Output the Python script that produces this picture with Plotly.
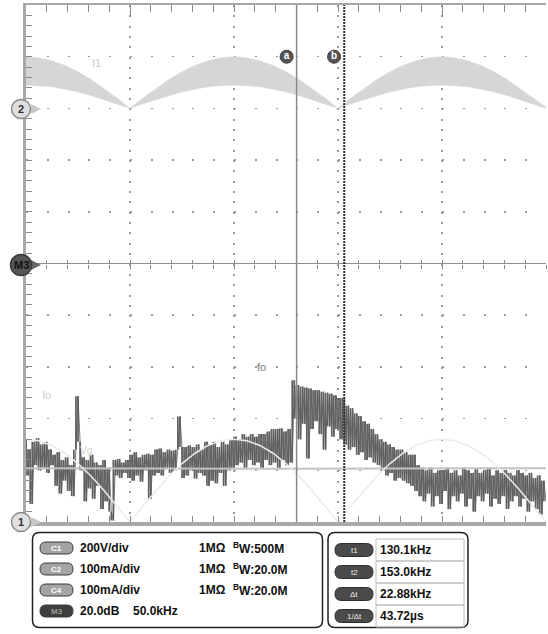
import numpy as np
import plotly.graph_objects as go

# ---------------- data (x in kHz, 50 kHz/div; y in divisions, M3 centre = 0) ----------------
fft_start_khz = 0.0
fft_step_khz = 1.0
fft_div = [
    -3.40, -4.10, -3.60, -4.65, -3.45, -3.90, -3.38, -4.00, -3.50, -3.95,
    -3.45, -4.05, -3.60, -3.90, -3.70, -4.30, -3.65, -4.45, -3.80, -4.20,
    -3.75, -4.40, -3.90, -4.50, -3.60, -2.57, -3.45, -4.00, -3.75, -4.60,
    -3.80, -4.35, -3.70, -4.55, -3.85, -4.30, -3.90, -4.75, -3.80, -4.60,
    -3.95, -4.80, -4.97, -3.80, -4.10, -3.78, -4.15, -3.85, -4.05, -3.80,
    -4.15, -3.70, -4.20, -3.65, -4.10, -3.75, -4.22, -3.70, -4.00, -3.68,
    -4.55, -3.70, -4.10, -3.60, -4.05, -3.58, -4.10, -3.65, -3.95, -3.60,
    -4.05, -3.62, -4.00, -3.60, -2.96, -3.55, -4.15, -3.55, -4.10, -3.52,
    -4.00, -3.55, -4.16, -3.50, -4.05, -3.60, -4.10, -3.45, -4.30, -3.50,
    -4.20, -3.45, -4.25, -3.55, -4.05, -3.45, -4.30, -3.50, -4.00, -3.40,
    -3.95, -3.35, -3.90, -3.40, -3.85, -3.30, -3.95, -3.35, -3.80, -3.30,
    -3.90, -3.35, -3.85, -3.30, -3.95, -3.30, -3.80, -3.25, -3.90, -3.20,
    -3.85, -3.20, -3.95, -3.19, -3.80, -3.25, -3.90, -3.20, -3.85, -2.26,
    -3.00, -2.35, -3.40, -2.38, -3.10, -2.40, -3.77, -2.42, -3.20, -2.45,
    -3.05, -2.45, -3.30, -2.48, -3.60, -2.50, -3.15, -2.52, -3.35, -2.55,
    -3.20, -2.60, -3.40, -2.60, -3.50, -2.75, -3.60, -2.80, -3.55, -2.90,
    -3.70, -2.95, -3.65, -3.05, -3.80, -3.10, -3.75, -3.20, -3.85, -3.30,
    -3.90, -3.40, -4.00, -3.45, -4.10, -3.50, -4.05, -3.55, -4.20, -3.60,
    -4.15, -3.60, -4.20, -3.65, -4.25, -3.70, -4.30, -3.70, -4.40, -3.90,
    -4.50, -3.95, -4.60, -4.00, -4.45, -3.95, -4.70, -4.05, -4.50, -4.00,
    -4.65, -4.00, -4.40, -3.95, -4.75, -4.05, -4.50, -4.00, -4.60, -4.10,
    -4.45, -3.95, -4.70, -4.00, -4.55, -4.05, -4.80, -3.98, -4.50, -4.05,
    -4.60, -4.00, -4.45, -3.95, -4.70, -4.10, -4.55, -4.00, -4.65, -4.05,
    -4.50, -4.00, -4.75, -4.05, -4.60, -4.10, -4.50, -4.00, -4.70, -4.05,
    -4.55, -4.10, -4.80, -4.05, -4.60, -4.15, -4.75, -4.10, -4.85, -4.20,
    -4.60,
]

env_step_khz = 6.25
i1_upper = [
    4.00, 3.98, 3.92, 3.83, 3.71, 3.56, 3.38, 3.20, 3.00,
    3.20, 3.38, 3.56, 3.71, 3.83, 3.92, 3.98, 4.00,
    3.98, 3.92, 3.83, 3.71, 3.56, 3.38, 3.20, 3.00,
    3.20, 3.38, 3.56, 3.71, 3.83, 3.92, 3.98, 4.00,
    3.98, 3.92, 3.83, 3.71, 3.56, 3.38, 3.20, 3.02,
]
i1_lower = [
    3.45, 3.44, 3.42, 3.37, 3.32, 3.25, 3.17, 3.09, 3.00,
    3.09, 3.17, 3.25, 3.32, 3.37, 3.42, 3.44, 3.45,
    3.44, 3.42, 3.37, 3.32, 3.25, 3.17, 3.09, 3.00,
    3.09, 3.17, 3.25, 3.32, 3.37, 3.42, 3.44, 3.45,
    3.44, 3.42, 3.37, 3.32, 3.25, 3.17, 3.09, 3.00,
]
io_arch = [
    -3.40, -3.43, -3.52, -3.67, -3.87, -4.11, -4.39, -4.69, -5.00,
    -4.69, -4.39, -4.11, -3.87, -3.67, -3.52, -3.43, -3.40,
    -3.43, -3.52, -3.67, -3.87, -4.11, -4.39, -4.69, -5.00,
    -4.69, -4.39, -4.11, -3.87, -3.67, -3.52, -3.43, -3.40,
    -3.43, -3.52, -3.67, -3.87, -4.11, -4.39, -4.69, -5.00,
]
c4_x = [0, 125, 250]
c4_level = [-3.96, -3.97, -3.96]

t1_khz = 130.1
t2_khz = 153.0

ch_pills = ["C1", "C2", "C4", "M3"]
ch_scale = ["200V/div", "100mA/div", "100mA/div", "20.0dB"]
ch_imp = ["1MΩ", "1MΩ", "1MΩ", ""]
ch_bw = ["500M", "20.0M", "20.0M", ""]
m3_span = "50.0kHz"
cur_pills = ["t1", "t2", "Δt", "1/Δt"]
cur_values = ["130.1kHz", "153.0kHz", "22.88kHz", "43.72µs"]

# ---------------- figure ----------------
FONT = "Liberation Sans"
fft_x = fft_start_khz + fft_step_khz * np.arange(len(fft_div))
env_x = env_step_khz * np.arange(len(i1_upper))

# FFT drawn as scope-style vertical strokes between successive samples
seg_x, seg_y = [], []
for i in range(len(fft_div) - 1):
    seg_x += [fft_x[i], fft_x[i], None]
    seg_y += [fft_div[i], fft_div[i + 1], None]

fig = go.Figure()

# I1 band
fig.add_trace(go.Scatter(x=env_x, y=i1_lower, mode="lines",
                         line=dict(color="#d6d6d6", width=0.5), hoverinfo="skip"))
fig.add_trace(go.Scatter(x=env_x, y=i1_upper, mode="lines", fill="tonexty",
                         fillcolor="#d6d6d6", line=dict(color="#d6d6d6", width=0.5),
                         hoverinfo="skip"))
# FFT
fig.add_trace(go.Scatter(x=fft_x, y=fft_div, mode="lines",
                         line=dict(color="#666666", width=0.9), hoverinfo="skip"))
fig.add_trace(go.Scatter(x=seg_x, y=seg_y, mode="lines",
                         line=dict(color="#5e5e5e", width=1.7), hoverinfo="skip"))
# C4 level line
fig.add_trace(go.Scatter(x=c4_x, y=c4_level, mode="lines",
                         line=dict(color="#c2c2c2", width=2), hoverinfo="skip"))
# Io arch
fig.add_trace(go.Scatter(x=env_x, y=io_arch, mode="lines",
                         line=dict(color="#ebebeb", width=1.5), hoverinfo="skip"))
# cursors
fig.add_trace(go.Scatter(x=[t1_khz, t1_khz], y=[-5, 5], mode="lines",
                         line=dict(color="#8a8a8a", width=1.5), hoverinfo="skip"))
fig.add_trace(go.Scatter(x=[t2_khz, t2_khz], y=[-5, 5], mode="lines",
                         line=dict(color="#2e2e2e", width=2, dash="2px,1px"),
                         hoverinfo="skip"))
# cursor labels
fig.add_trace(go.Scatter(x=[t1_khz - 4.8, t2_khz - 4.9], y=[4.0, 4.0],
                         mode="markers+text", text=["<b>a</b>", "<b>b</b>"],
                         textposition="middle center",
                         textfont=dict(family=FONT, size=10, color="white"),
                         marker=dict(size=13, color="#555555",
                                     line=dict(color="#3a3a3a", width=1)),
                         hoverinfo="skip"))

# dummy traces so the extra tick axes are drawn
for ax in ["x2", "x3", "x4", "x5"]:
    fig.add_trace(go.Scatter(x=[None], y=[None], xaxis=ax, yaxis="y",
                             hoverinfo="skip", showlegend=False))

# trace labels
for txt, x, y, col, sz in [("I1", 33.9, 3.87, "#cccccc", 11),
                           ("Io", 9.9, -2.55, "#cccccc", 11),
                           ("fo", 113.3, -2.01, "#777777", 11),
                           ("Vg", 28.7, -3.62, "#d4d4d4", 10)]:
    fig.add_annotation(x=x, y=y, xref="x", yref="y", text=txt, showarrow=False,
                       xanchor="center", yanchor="middle",
                       font=dict(family=FONT, size=sz, color=col))

# ---------------- pixel helpers (paper coords) ----------------
def X(px):
    return (px - 26) / 520.0

def Y(py):
    return (522 - py) / 517.0

def rrect(x0, y0, x1, y1, r):
    return (f"M{X(x0 + r)},{Y(y0)} L{X(x1 - r)},{Y(y0)} Q{X(x1)},{Y(y0)} {X(x1)},{Y(y0 + r)} "
            f"L{X(x1)},{Y(y1 - r)} Q{X(x1)},{Y(y1)} {X(x1 - r)},{Y(y1)} "
            f"L{X(x0 + r)},{Y(y1)} Q{X(x0)},{Y(y1)} {X(x0)},{Y(y1 - r)} "
            f"L{X(x0)},{Y(y0 + r)} Q{X(x0)},{Y(y0)} {X(x0 + r)},{Y(y0)} Z")

def tri(x0, cy, w, h):
    return f"M{X(x0)},{Y(cy - h / 2)} L{X(x0 + w)},{Y(cy)} L{X(x0)},{Y(cy + h / 2)} Z"

shapes = []
annos = []

def text_at(px, py, txt, size, color, anchor="center"):
    annos.append(dict(x=X(px), y=Y(py), xref="paper", yref="paper", text=txt,
                      showarrow=False, xanchor=anchor, yanchor="middle",
                      font=dict(family=FONT, size=size, color=color)))

# channel reference markers on the left edge
for label, cy, r, fill, edge, tcol, arrow_col in [
        ("2", 109, 9.5, "#dedede", "#8c8c8c", "#333", "#c8c8c8"),
        ("M3", 265, 10.5, "#555555", "#3a3a3a", "#111", "#666666"),
        ("1", 522, 9.5, "#e0e0e0", "#8c8c8c", "#333", "#c8c8c8")]:
    cx = 21
    shapes.append(dict(type="path", path=tri(31, cy, 10, 10), xref="paper", yref="paper",
                       line=dict(width=0), fillcolor=arrow_col))
    shapes.append(dict(type="circle", x0=X(cx - r), x1=X(cx + r), y0=Y(cy + r), y1=Y(cy - r),
                       xref="paper", yref="paper", line=dict(color=edge, width=1.5),
                       fillcolor=fill))
    text_at(cx, cy, f"<b>{label}</b>", 11, tcol)

# bottom info panel
shapes.append(dict(type="path", path=rrect(32.5, 532.5, 322.5, 627.5, 7), xref="paper",
                   yref="paper", line=dict(color="#222", width=1.5), fillcolor="white"))
shapes.append(dict(type="path", path=rrect(328, 532.5, 468, 627.5, 7), xref="paper",
                   yref="paper", line=dict(color="#222", width=1.5), fillcolor="white"))

left_rows = [548, 569, 590, 611]
for i, cy in enumerate(left_rows):
    dark = ch_pills[i] == "M3"
    shapes.append(dict(type="path", path=rrect(40, cy - 6, 73, cy + 6, 6), xref="paper",
                       yref="paper", line=dict(color="#3a3a3a", width=1),
                       fillcolor="#3e3e3e" if dark else "#a4a4a4"))
    text_at(56.5, cy, f"<b>{ch_pills[i]}</b>", 8, "#9a9a9a" if dark else "#ffffff")
    text_at(78, cy, f"<b>{ch_scale[i]}</b>", 12, "#111", "left")
    if ch_imp[i]:
        text_at(197, cy, f"<b>{ch_imp[i]}</b>", 12, "#111", "left")
        text_at(231, cy, f"<b><sup>B</sup>W:{ch_bw[i]}</b>", 12, "#111", "left")
text_at(131, left_rows[3], f"<b>{m3_span}</b>", 12, "#111", "left")

cell_tops = [539, 561, 583, 605]
for i, top in enumerate(cell_tops):
    cy = top + 11
    shapes.append(dict(type="rect", x0=X(376), x1=X(464), y0=Y(top), y1=Y(top + 22),
                       xref="paper", yref="paper", line=dict(color="#bdbdbd", width=1)))
    shapes.append(dict(type="path", path=rrect(335, cy - 6.5, 373, cy + 6.5, 6.5),
                       xref="paper", yref="paper", line=dict(color="#2e2e2e", width=1),
                       fillcolor="#4a4a4a"))
    text_at(354, cy, cur_pills[i], 8, "#f0f0f0")
    text_at(378, cy, f"<b>{cur_values[i]}</b>", 12, "#111", "left")

for a in annos:
    fig.add_annotation(**a)

# ---------------- axes / layout ----------------
tick_col = "#8a8a8a"
border_col = "#a8a8a8"
fig.update_layout(
    width=548, height=634,
    margin=dict(l=26, r=2, t=5, b=112, pad=0),
    paper_bgcolor="white", plot_bgcolor="white",
    showlegend=False, hovermode=False,
    shapes=shapes,
    xaxis=dict(range=[0, 250], showline=True, linecolor=border_col, linewidth=4,
               ticks="inside", ticklen=6, tickcolor=tick_col, tickwidth=1,
               tick0=0, dtick=50, showticklabels=False, zeroline=False,
               showgrid=True, gridcolor="#9a9a9a", gridwidth=1.5, griddash="2px,8.34px",
               minor=dict(dtick=10, ticks="inside", ticklen=6, tickcolor=tick_col,
                          showgrid=False),
               fixedrange=True),
    yaxis=dict(range=[-5, 5], showline=True, linecolor=border_col, linewidth=3,
               ticks="inside", ticklen=6, tickcolor=tick_col, tickwidth=1,
               tick0=-5, dtick=1, showticklabels=False,
               showgrid=True, gridcolor="#9a9a9a", gridwidth=1.5, griddash="2px,18.8px",
               zeroline=True, zerolinecolor="#8c8c8c", zerolinewidth=1.5,
               minor=dict(dtick=0.2, ticks="inside", ticklen=6, tickcolor=tick_col,
                          showgrid=False),
               fixedrange=True),
    xaxis2=dict(range=[0, 250], overlaying="x", anchor="y", side="top",
                showline=True, linecolor=border_col, linewidth=2,
                ticks="inside", ticklen=7, tickcolor=tick_col, tick0=0, dtick=10,
                showticklabels=False, showgrid=False, zeroline=False, fixedrange=True),
    xaxis3=dict(range=[0, 250], overlaying="x", anchor="y", side="top",
                showline=False, tickmode="array", tickvals=[50, 200],
                ticks="inside", ticklen=12, tickcolor=tick_col,
                showticklabels=False, showgrid=False, zeroline=False, fixedrange=True),
    xaxis4=dict(range=[0, 250], overlaying="x", anchor="free", position=0.5, side="bottom",
                showline=False, ticks="outside", ticklen=4, tickcolor=tick_col,
                tick0=0, dtick=10, showticklabels=False, showgrid=False,
                zeroline=False, fixedrange=True),
    xaxis5=dict(range=[0, 250], overlaying="x", anchor="free", position=0.5, side="bottom",
                showline=False, ticks="inside", ticklen=4, tickcolor=tick_col,
                tick0=0, dtick=10, showticklabels=False, showgrid=False,
                zeroline=False, fixedrange=True),
)

fig.write_html("out.html", config={"displayModeBar": False, "staticPlot": True})
